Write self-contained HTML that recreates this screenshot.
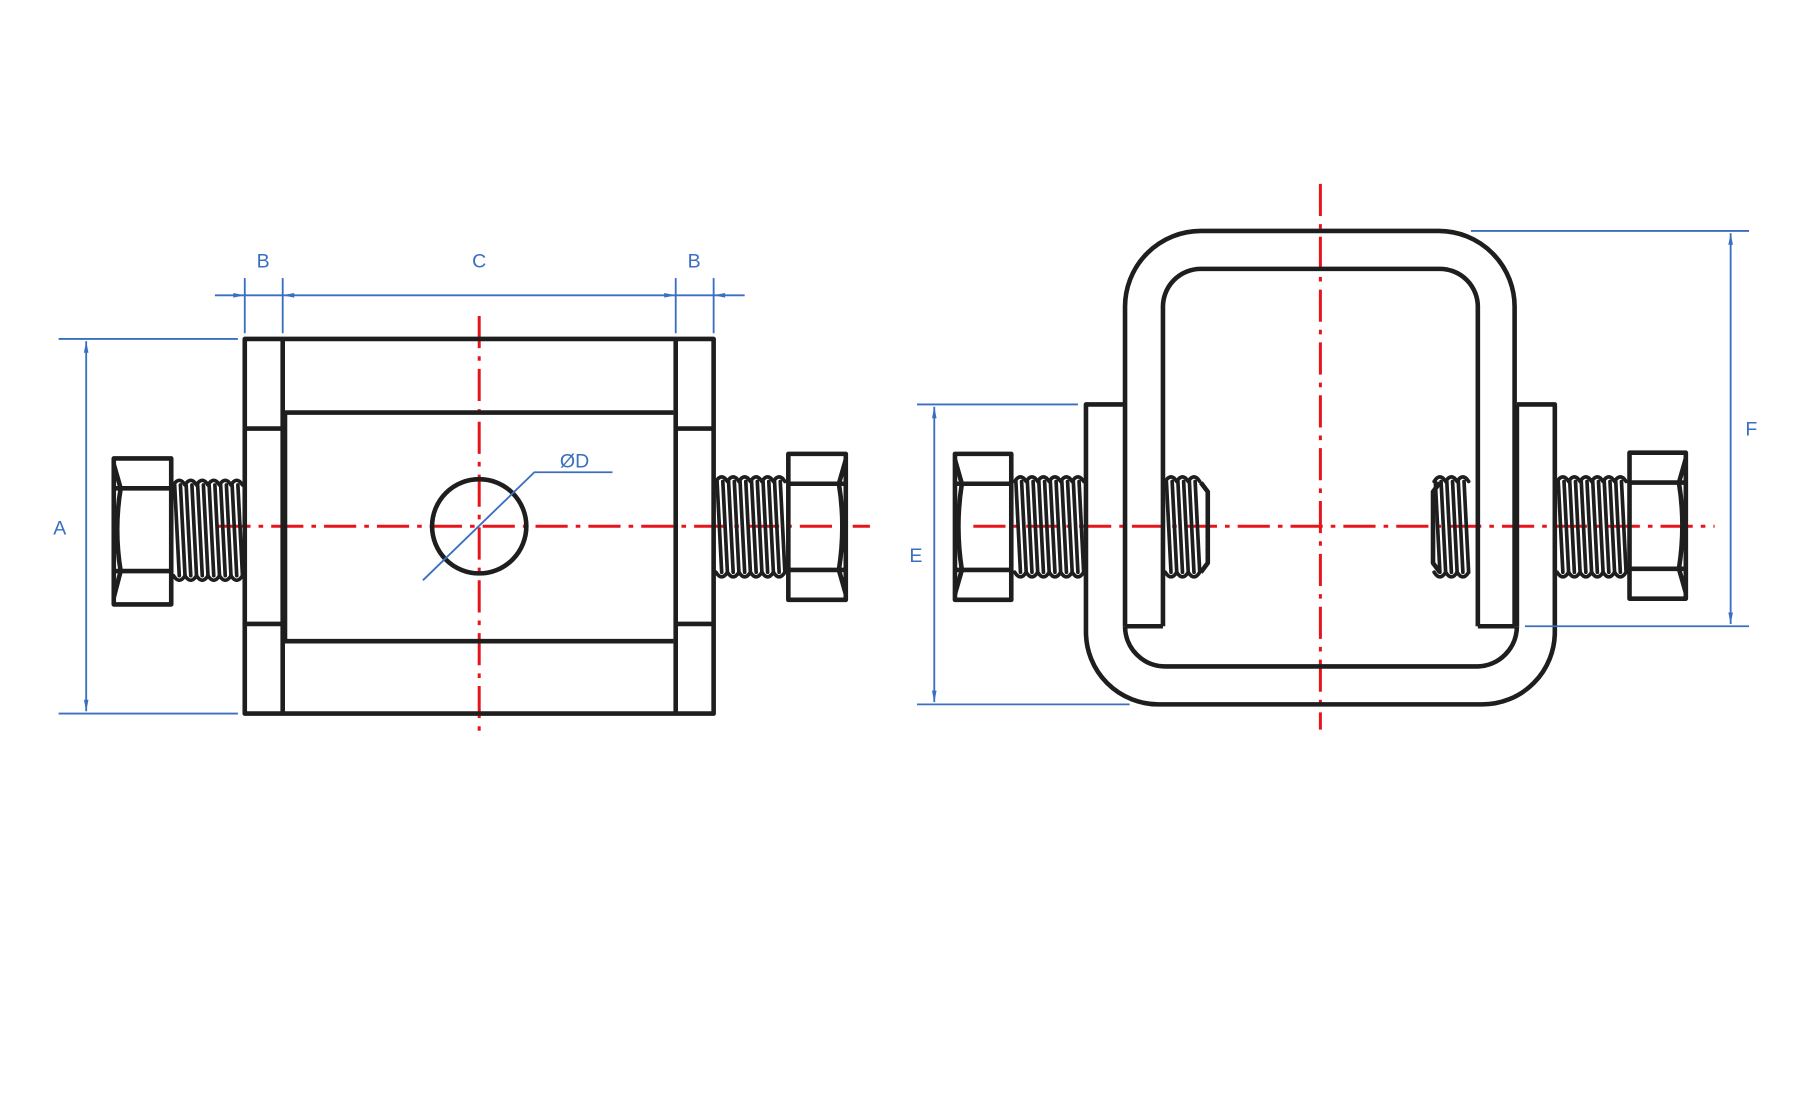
<!DOCTYPE html>
<html><head><meta charset="utf-8"><style>
html,body{margin:0;padding:0;background:#fff;width:1795px;height:1110px;overflow:hidden}
svg{display:block}
text{font-family:"Liberation Sans",sans-serif;fill:#3a6fc0;font-size:17px}
</style></head><body>
<svg width="1795" height="1110" viewBox="0 0 1562 966" preserveAspectRatio="none" xmlns="http://www.w3.org/2000/svg">
<defs>
<g id="t" fill="none" stroke="#1e1e1e" stroke-width="3.2" stroke-linejoin="round" stroke-linecap="round">
<path d="M0,1 q5,-8 10,0 M0,80 q5,8 10,0 M1,1 L5,80 M6,1 L10,80"/>
</g>
</defs>
<!-- red center lines -->
<g stroke="#e8141c" stroke-width="2.6" fill="none" stroke-dasharray="28,7,4,7">
<line x1="190" y1="458" x2="757" y2="458"/>
<line x1="417" y1="275" x2="417" y2="642"/>
<line x1="847" y1="458" x2="1492" y2="458"/>
<line x1="1149" y1="160" x2="1149" y2="635"/>
</g>
<g stroke="#1e1e1e" stroke-width="4" fill="none" stroke-linejoin="round">
<rect x="213" y="295" width="408" height="326"/>
<line x1="246" y1="295" x2="246" y2="621"/>
<line x1="588" y1="295" x2="588" y2="621"/>
<line x1="213" y1="373" x2="246" y2="373"/>
<line x1="213" y1="543" x2="246" y2="543"/>
<line x1="588" y1="373" x2="621" y2="373"/>
<line x1="588" y1="543" x2="621" y2="543"/>
<line x1="248" y1="359" x2="586" y2="359"/>
<line x1="248" y1="558" x2="586" y2="558"/>
<line x1="248" y1="359" x2="248" y2="558"/>
<circle cx="417" cy="458" r="41"/>
<rect x="99" y="399" width="50" height="127"/>
<line x1="99" y1="425" x2="149" y2="425"/>
<line x1="99" y1="497" x2="149" y2="497"/>
<path d="M99,404 L105,425 Q99,461 105,497 L99,520"/>
<rect x="686" y="395" width="50" height="127"/>
<line x1="686" y1="421" x2="736" y2="421"/>
<line x1="686" y1="496" x2="736" y2="496"/>
<path d="M736,400 L730,421 Q736,458 730,496 L736,517"/>
</g>
<g>
<use href="#t" x="151" y="421"/><use href="#t" x="161" y="421"/><use href="#t" x="171" y="421"/><use href="#t" x="181" y="421"/><use href="#t" x="191" y="421"/><use href="#t" x="201" y="421"/>
<use href="#t" x="623" y="418"/><use href="#t" x="633" y="418"/><use href="#t" x="643" y="418"/><use href="#t" x="653" y="418"/><use href="#t" x="663" y="418"/><use href="#t" x="673" y="418"/>
<use href="#t" x="883" y="418"/><use href="#t" x="893" y="418"/><use href="#t" x="903" y="418"/><use href="#t" x="913" y="418"/><use href="#t" x="923" y="418"/><use href="#t" x="933" y="418"/>
<use href="#t" x="1014" y="418"/><use href="#t" x="1024" y="418"/><use href="#t" x="1034" y="418"/>
<use href="#t" x="1248" y="418"/><use href="#t" x="1258" y="418"/><use href="#t" x="1268" y="418"/>
<use href="#t" x="1355" y="418"/><use href="#t" x="1365" y="418"/><use href="#t" x="1375" y="418"/><use href="#t" x="1385" y="418"/><use href="#t" x="1395" y="418"/><use href="#t" x="1405" y="418"/>
</g>
<g stroke="#1e1e1e" stroke-width="4" fill="none" stroke-linejoin="round">
<path d="M979,545 L979,268 A66,66 0 0 1 1045,201 L1252,201 A66,66 0 0 1 1318,268 L1318,545"/>
<path d="M1012,545 L1012,268 A33,33 0 0 1 1045,234 L1252,234 A33,33 0 0 1 1286,268 L1286,545"/>
<line x1="979" y1="545" x2="1012" y2="545"/>
<line x1="1286" y1="545" x2="1318" y2="545"/>
<path d="M979,352 L945,352 L945,550 A63,63 0 0 0 1008,613 L1290,613 A63,63 0 0 0 1353,550 L1353,352 L1320,352"/>
<path d="M979,545 A35,35 0 0 0 1014,580 L1286,580 A35,35 0 0 0 1320,545"/>
<line x1="1320" y1="352" x2="1320" y2="545"/>
<path d="M1045,420 L1051,428 L1051,490 L1045,498"/>
<path d="M1253,420 L1247,428 L1247,490 L1253,498"/>
<rect x="831" y="395" width="49" height="127"/>
<line x1="831" y1="421" x2="880" y2="421"/>
<line x1="831" y1="496" x2="880" y2="496"/>
<path d="M831,400 L837,421 Q831,458 837,496 L831,517"/>
<rect x="1418" y="394" width="49" height="127"/>
<line x1="1418" y1="420" x2="1467" y2="420"/>
<line x1="1418" y1="495" x2="1467" y2="495"/>
<path d="M1467,399 L1461,420 Q1467,457 1461,495 L1467,516"/>
</g>
<g stroke="#3a6fc0" stroke-width="1.6" fill="none">
<line x1="51" y1="295" x2="207" y2="295"/>
<line x1="51" y1="621" x2="207" y2="621"/>
<line x1="75" y1="297" x2="75" y2="619"/>
<line x1="187" y1="257" x2="648" y2="257"/>
<line x1="213" y1="242" x2="213" y2="290"/>
<line x1="246" y1="242" x2="246" y2="290"/>
<line x1="588" y1="242" x2="588" y2="290"/>
<line x1="621" y1="242" x2="621" y2="290"/>
<polyline points="368,505 465,411 533,411"/>
<line x1="798" y1="352" x2="938" y2="352"/>
<line x1="798" y1="613" x2="983" y2="613"/>
<line x1="813" y1="354" x2="813" y2="611"/>
<line x1="1280" y1="201" x2="1522" y2="201"/>
<line x1="1327" y1="545" x2="1522" y2="545"/>
<line x1="1506" y1="203" x2="1506" y2="543"/>
</g>
<g fill="#3a6fc0">
<path d="M75,297 l-2,10 l4,0z M75,619 l-2,-10 l4,0z M813,354 l-2,10 l4,0z M813,611 l-2,-10 l4,0z M1506,203 l-2,10 l4,0z M1506,543 l-2,-10 l4,0z"/>
<path d="M213,257 l-10,-2 l0,4z M246,257 l10,-2 l0,4z M588,257 l-10,-2 l0,4z M621,257 l10,-2 l0,4z"/>
</g>
<text x="52" y="465" text-anchor="middle">A</text>
<text x="229" y="233" text-anchor="middle">B</text>
<text x="417" y="233" text-anchor="middle">C</text>
<text x="604" y="233" text-anchor="middle">B</text>
<text x="500" y="407" text-anchor="middle">ØD</text>
<text x="797" y="489" text-anchor="middle">E</text>
<text x="1524" y="379" text-anchor="middle">F</text>
</svg>
</body></html>
